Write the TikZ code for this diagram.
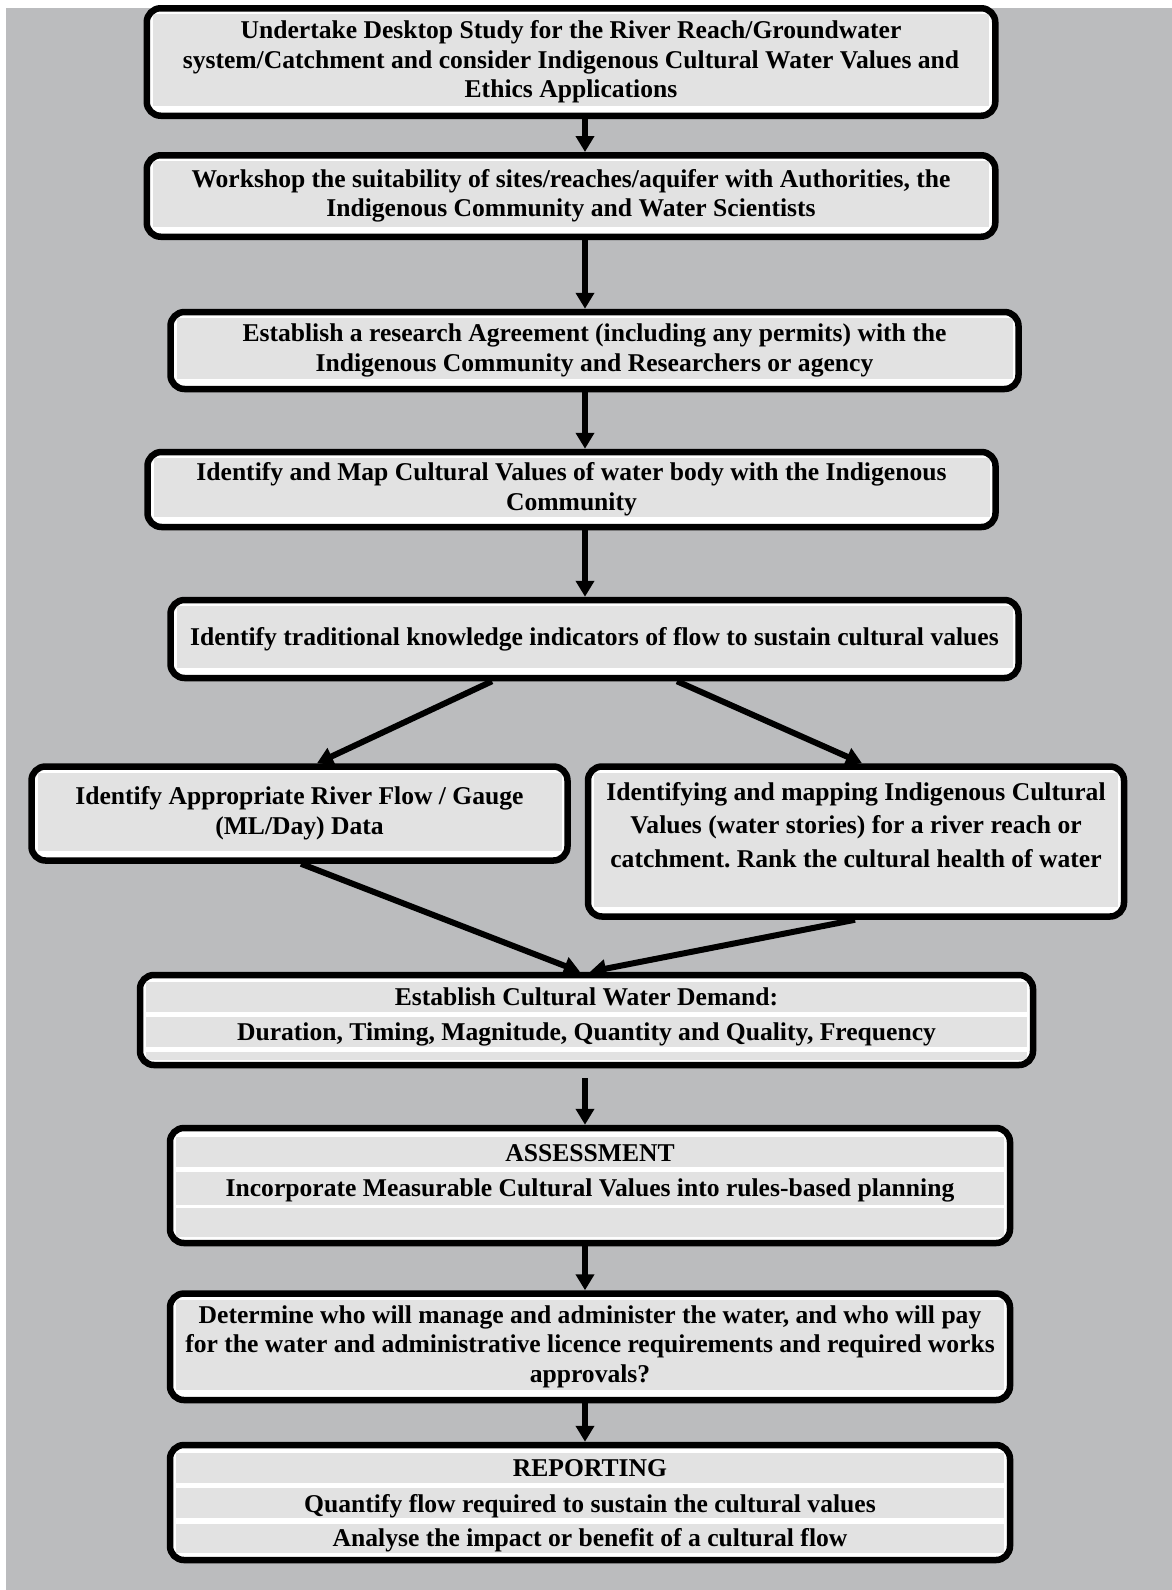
\documentclass[tikz,border=0pt]{standalone}
\usepackage{fontspec}
\setmainfont{Liberation Serif}
\usepackage{tikz}
\usetikzlibrary{arrows.meta}
\definecolor{BACK}{HTML}{BBBCBE}
\definecolor{FILL}{HTML}{E2E2E2}
\definecolor{BLACK}{HTML}{000000}

\begin{document}
\begin{tikzpicture}[x=1pt, y=-1pt,
    box/.style={draw=BLACK, line width=6.5pt, fill=white, rounded corners=14pt, align=center, inner sep=0pt,
        font=\frenchspacing\bfseries\fontsize{25.6}{29.6}\selectfont},
    bands/.style={path picture={\foreach \ya/\yb in {#1}
        \fill[FILL, sharp corners] ([shift={(6pt,-\ya pt)}]path picture bounding box.north west) rectangle ([shift={(-6pt,-\yb pt)}]path picture bounding box.north east);}},
    rowtext/.style={inner sep=0pt, text height=18pt, text depth=6pt, font=\frenchspacing\bfseries\fontsize{25.6}{29.6}\selectfont},
    arr/.style={draw=BLACK, line width=6pt, -{Triangle[width=18pt,length=16pt]}}]
    \useasboundingbox (0,0) rectangle (1172,1590);
    \fill[BACK] (6,8) rectangle (1172,1590);
    \coordinate (spine) at (585,0);
    % boxes
    \node[box, minimum width=848.5pt, minimum height=107.5pt, bands={6/97.5}] (b1) at (571,62)
        {Undertake Desktop Study for the River Reach/Groundwater\\ system/Catchment and consider Indigenous Cultural Water Values and\\ Ethics Applications};
    \node[box, minimum width=848.5pt, minimum height=81.5pt, bands={6/71.5}] (b2) at (571,196)
        {Workshop the suitability of sites/reaches/aquifer with Authorities, the\\ Indigenous Community and Water Scientists};
    \node[box, minimum width=848pt, minimum height=77pt, bands={6/67}] (b3) at (594.5,350.5)
        {Establish a research Agreement (including any permits) with the\\ Indigenous Community and Researchers or agency};
    \node[box, minimum width=848pt, minimum height=75pt, bands={6/65}] (b4) at (571.5,489.5)
        {Identify and Map Cultural Values of water body with the Indigenous\\ Community};
    \node[box, minimum width=848pt, minimum height=78pt, bands={6/68}] (b5) at (594.5,639)
        {Identify traditional knowledge indicators of flow to sustain cultural values};
    \node[box, minimum width=536pt, minimum height=94pt, bands={6/84}] (b6) at (299.5,813.5)
        {Identify Appropriate River Flow / Gauge\\ (ML/Day) Data};
    \node[box, minimum width=536pt, minimum height=150pt, bands={6/140},
        font=\frenchspacing\bfseries\fontsize{25.6}{33.5}\selectfont] (b7) at (856,841.5)
        {Identifying and mapping Indigenous Cultural\\ Values (water stories) for a river reach or\\ catchment. Rank the cultural health of water\\ \mbox{}};
    \node[box, minimum width=893pt, minimum height=90pt, bands={7/37,42/72,77/85}] (b8) at (586.5,1020) {};
    \node[rowtext] (b8a) at (586.5,999.5) {Establish Cultural Water Demand:};
    \node[rowtext] (b8b) at (586.5,1034.5) {Duration, Timing, Magnitude, Quantity and Quality, Frequency};
    \node[box, minimum width=840pt, minimum height=115pt, bands={9/39,44/77,80/109}] (b9) at (590,1185.5) {};
    \node[rowtext] (b9a) at (590,1155) {ASSESSMENT};
    \node[rowtext] (b9b) at (590,1190) {Incorporate Measurable Cultural Values into rules-based planning};
    \node[box, minimum width=840pt, minimum height=106.5pt, bands={6/96.5}] (b10) at (590,1346.75)
        {Determine who will manage and administer the water, and who will pay\\ for the water and administrative licence requirements and required works\\ approvals?};
    \node[box, minimum width=840pt, minimum height=115pt, bands={8/38,43/73,79/108}] (b11) at (590,1502.5) {};
    \node[rowtext] (b11a) at (590,1470.5) {REPORTING};
    \node[rowtext] (b11b) at (590,1506) {Quantify flow required to sustain the cultural values};
    \node[rowtext] (b11c) at (590,1540) {Analyse the impact or benefit of a cultural flow};
    % arrows
    \draw[arr] (b1.south -| spine) -- (b2.north -| spine);
    \draw[arr] (b2.south -| spine) -- (b3.north -| spine);
    \draw[arr] (b3.south -| spine) -- (b4.north -| spine);
    \draw[arr] (b4.south -| spine) -- (b5.north -| spine);
    \draw[arr] ([xshift=-102.5pt]b5.south) -- ([xshift=17.5pt]b6.north);
    \draw[arr] ([xshift=82.5pt]b5.south) -- ([xshift=6pt]b7.north);
    \draw[arr] ([xshift=1.5pt]b6.south) -- ([xshift=-6.5pt]b8.north);
    \draw[arr] ([xshift=-1pt]b7.south) -- ([xshift=3.5pt]b8.north);
    \draw[arr, shorten <=10pt] (b8.south -| spine) -- (b9.north -| spine);
    \draw[arr] (b9.south -| spine) -- (b10.north -| spine);
    \draw[arr] (b10.south -| spine) -- (b11.north -| spine);
\end{tikzpicture}
\end{document}
